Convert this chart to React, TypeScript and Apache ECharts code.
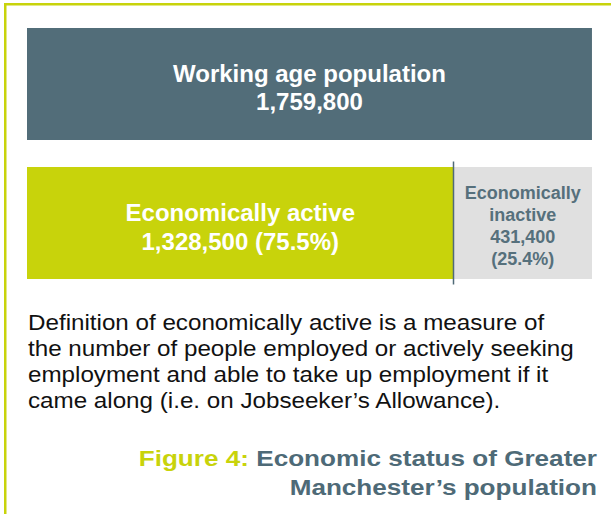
import React, { useEffect, useRef } from "react";
import * as echarts from "echarts";

const categories = ["Working age population", "Economic status"];
const workingAge = [1759800, "-"];
const active = ["-", 1328500];
const inactive = ["-", 431400];
const activePct = "75.5%";
const inactivePct = "25.4%";
const definitionLines = [
  "Definition of economically active is a measure of",
  "the number of people employed or actively seeking",
  "employment and able to take up employment if it",
  "came along (i.e. on Jobseeker\u2019s Allowance).",
];
const figureLabel = "Figure 4:";
const captionLines = ["Economic status of Greater", "Manchester\u2019s population"];

const fmt = (v: number) => v.toLocaleString("en-GB");

const GREEN = "#c8d30b";
const SLATE = "#526d79";
const FONT = "Liberation Sans, Arial, Helvetica, sans-serif";

export default function App() {
  const ref = useRef<HTMLDivElement>(null);
  useEffect(() => {
    if (!ref.current) return;
    const chart = echarts.init(ref.current, null, { renderer: "svg" });
    const total = (active[1] as number) + (inactive[1] as number);
    chart.setOption({
      animation: false,
      grid: { left: 27, right: 19, top: 14.5, bottom: 221.5 },
      xAxis: { type: "value", min: 0, max: total, show: false },
      yAxis: { type: "category", data: categories, inverse: true, show: false },
      series: [
        {
          type: "bar",
          stack: "s",
          barWidth: 112,
          data: workingAge,
          itemStyle: { color: SLATE },
          label: {
            show: true,
            position: "inside",
            offset: [0, 3],
            formatter: (p: any) => `Working age population\n${fmt(p.value)}`,
            color: "#ffffff",
            fontFamily: FONT,
            fontWeight: "bold",
            fontSize: 24,
            lineHeight: 28,
          },
        },
        {
          type: "bar",
          stack: "s",
          barWidth: 112,
          data: active,
          itemStyle: { color: GREEN },
          label: {
            show: true,
            position: "inside",
            offset: [0, 4],
            formatter: (p: any) => `Economically active\n${fmt(p.value)} (${activePct})`,
            color: "#ffffff",
            fontFamily: FONT,
            fontWeight: "bold",
            fontSize: 24,
            lineHeight: 29,
          },
        },
        {
          type: "bar",
          stack: "s",
          barWidth: 112,
          data: inactive,
          itemStyle: { color: "#e0e0e0" },
          label: {
            show: true,
            position: "inside",
            offset: [0, 3],
            formatter: (p: any) => `Economically\ninactive\n${fmt(p.value)}\n(${inactivePct})`,
            color: "#56707c",
            fontFamily: FONT,
            fontWeight: "bold",
            fontSize: 18,
            lineHeight: 22,
          },
        },
        {
          type: "custom",
          data: [[active[1], 1]],
          renderItem: (params: any, api: any) => {
            const p = api.coord([api.value(0), api.value(1)]);
            return {
              type: "line",
              shape: { x1: p[0], y1: p[1] - 61.5, x2: p[0], y2: p[1] + 61.5 },
              style: { stroke: "#4f6a77", lineWidth: 1.5 },
            };
          },
          z: 5,
        },
      ],
      graphic: [
        { type: "rect", shape: { x: 4, y: 3, width: 607, height: 2.5 }, style: { fill: GREEN } },
        { type: "rect", shape: { x: 4, y: 3, width: 2.5, height: 511 }, style: { fill: GREEN } },
        {
          type: "text",
          x: 28,
          y: 309,
          scaleX: 1.1,
          style: {
            text: definitionLines.join("\n"),
            fontFamily: FONT,
            fontSize: 22,
            lineHeight: 26,
            fill: "#111111",
            verticalAlign: "top",
            align: "left",
          },
        },
        {
          type: "text",
          x: 597,
          y: 443,
          scaleX: 1.16,
          style: {
            text: `{a|${figureLabel}} {b|${captionLines[0]}}\n{b|${captionLines[1]}}`,
            align: "right",
            verticalAlign: "top",
            fontFamily: FONT,
            fontWeight: "bold",
            fontSize: 22.5,
            lineHeight: 29.5,
            rich: {
              a: { fill: GREEN, fontFamily: FONT, fontWeight: "bold", fontSize: 22.5, lineHeight: 29.5 },
              b: { fill: "#4e6a77", fontFamily: FONT, fontWeight: "bold", fontSize: 22.5, lineHeight: 29.5 },
            },
          },
        },
      ],
    });
    return () => chart.dispose();
  }, []);
  return (
    <div
      ref={ref}
      style={{ position: "absolute", left: 0, top: 0, width: 611, height: 514, background: "#ffffff" }}
    />
  );
}
